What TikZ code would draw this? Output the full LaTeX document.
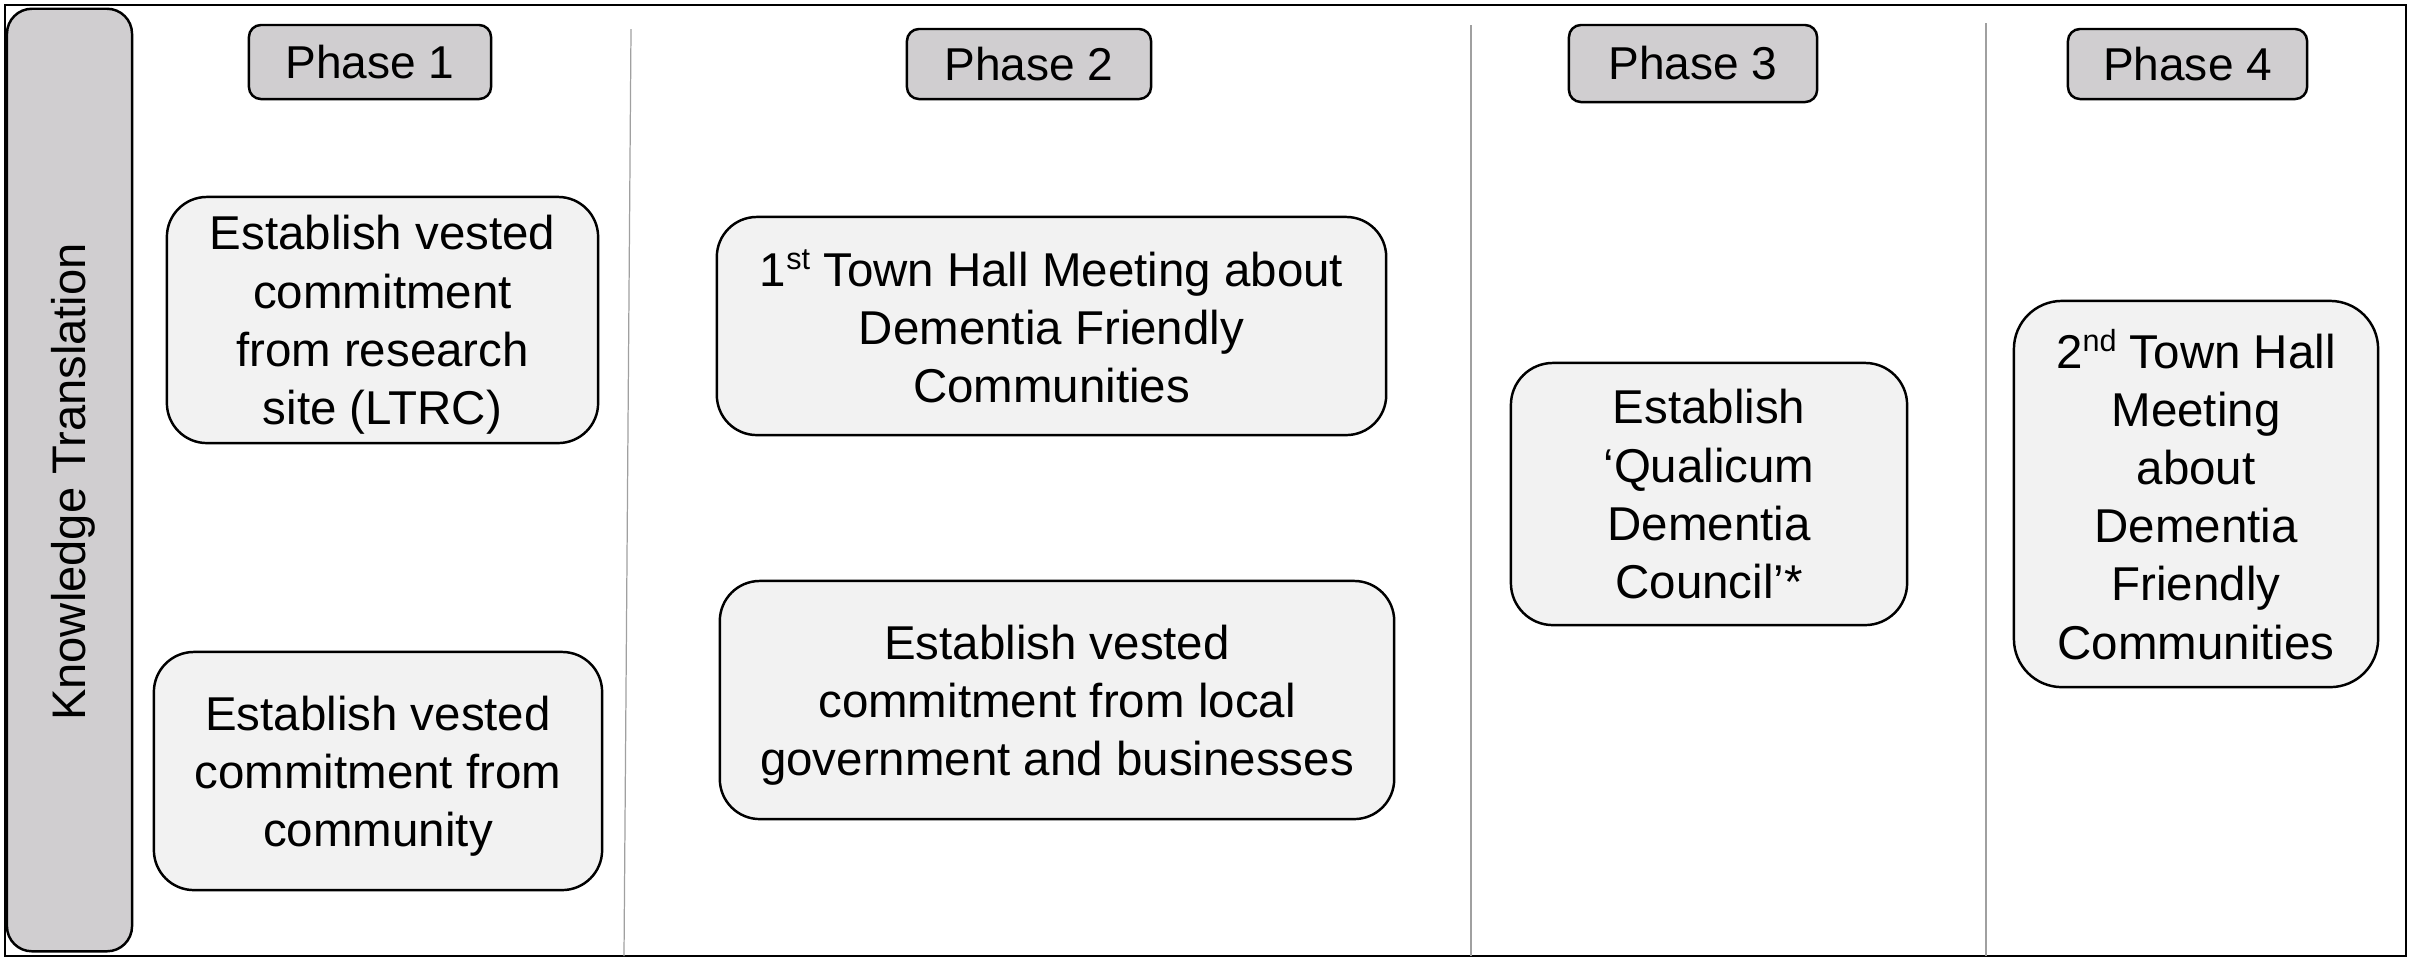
\documentclass[tikz,border=0pt]{standalone}
\usepackage{fontspec}
\setmainfont{Liberation Sans}
\definecolor{bandgray}{RGB}{208,206,208}
\definecolor{boxgray}{RGB}{242,242,242}
\definecolor{divgray}{RGB}{160,160,160}
\newcommand\boxfont{\fontsize{13.5pt}{16.55pt}\selectfont}
\newcommand\phfont{\fontsize{13.1pt}{15.6pt}\selectfont}
\newcommand\ktfont{\fontsize{13.4pt}{15pt}\selectfont}
\newcommand\supr[1]{\raisebox{0.36em}{\fontsize{8.7pt}{8.7pt}\selectfont #1}}
\tikzset{
  stepbox/.style={draw=black, line width=0.7pt, fill=boxgray, inner sep=0pt,
    align=center, font=\boxfont, text depth=0pt, rounded corners=#1},
  stepbox/.default=0.4cm,
  phasebox/.style={draw=black, line width=0.7pt, fill=bandgray, inner sep=0pt,
    font=\phfont, rounded corners=0.12cm},
  divider/.style={draw=divgray, line width=0.35pt},
}
\begin{document}
\begin{tikzpicture}[x=0.01cm, y=-0.01cm]
\useasboundingbox (0,0) rectangle (2422,959);
% outer frame
\draw[line width=0.7pt] (5,5) rectangle (2406,956);
% dividers
\coordinate (d1t) at (631,29); \coordinate (d1b) at (624,956);
\coordinate (d2t) at (1471,25); \coordinate (d2b) at (1471,956);
\coordinate (d3t) at (1986,23); \coordinate (d3b) at (1986,956);
\draw[divider] (d1t) -- (d1b);
\draw[divider] (d2t) -- (d2b);
\draw[divider] (d3t) -- (d3b);
% left band
\node[draw=black, line width=0.7pt, fill=bandgray, rounded corners=0.25cm,
  minimum width=1.25cm, minimum height=9.42cm, inner sep=0pt] (band) at (69.5,480) {};
\node[rotate=90, anchor=base, font=\ktfont, inner sep=0pt] (kt) at (85,482) {Knowledge Translation};
% phase labels
\node[phasebox, minimum width=2.42cm, minimum height=0.74cm] (p1) at (370,62) {Phase 1};
\node[phasebox, minimum width=2.44cm, minimum height=0.70cm] (p2) at (1029,64) {Phase 2};
\node[phasebox, minimum width=2.48cm, minimum height=0.77cm] (p3) at (1693,63.5) {Phase 3};
\node[phasebox, minimum width=2.39cm, minimum height=0.70cm] (p4) at (2187.5,64) {Phase 4};
% step boxes
\node[stepbox, minimum width=4.31cm, minimum height=2.46cm] (a) at (382.5,320)
  {Establish vested\\commitment\\from research\\site (LTRC)};
\node[stepbox, minimum width=4.48cm, minimum height=2.38cm] (b) at (378,771)
  {Establish vested\\commitment from\\community};
\node[stepbox, minimum width=6.69cm, minimum height=2.18cm] (c) at (1051.5,326)
  {1\supr{st} Town Hall Meeting about\\Dementia Friendly\\Communities};
\node[stepbox, minimum width=6.74cm, minimum height=2.38cm] (d) at (1057,700)
  {Establish vested\\commitment from local\\government and businesses};
\node[stepbox=0.42cm, minimum width=3.96cm, minimum height=2.62cm] (e) at (1709,494)
  {Establish\\‘Qualicum\\Dementia\\Council’*};
\node[stepbox=0.48cm, minimum width=3.64cm, minimum height=3.86cm] (f) at (2196,494)
  {2\supr{nd} Town Hall\\Meeting\\about\\Dementia\\Friendly\\Communities};
\end{tikzpicture}
\end{document}
